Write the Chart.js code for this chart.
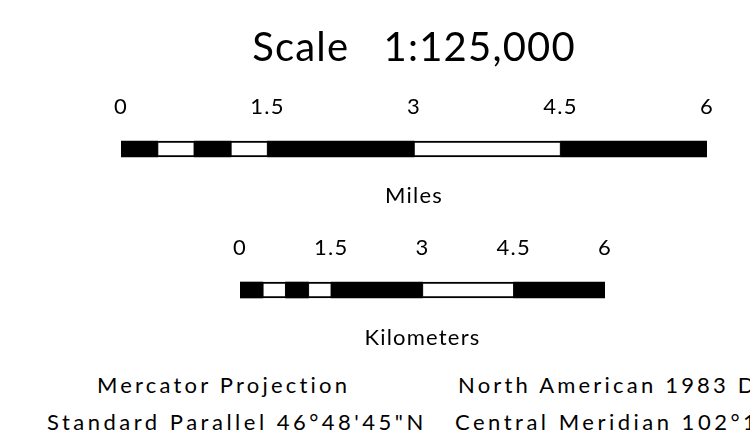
<!DOCTYPE html>
<html>
<head>
<meta charset="utf-8">
<script src="https://cdn.jsdelivr.net/npm/chart.js@4.4.1/dist/chart.umd.min.js"></script>
<style>
  html, body { margin: 0; padding: 0; background: #fff; overflow: hidden; }
  #wrap { position: relative; width: 750px; height: 445px; overflow: hidden; font-family: Lato, sans-serif; color: #000; }
  .cv { position: absolute; left: 0; }
  .note { position: absolute; white-space: nowrap; font-size: 22px; line-height: 24px; }
</style>
</head>
<body>
<div id="wrap">
  <div class="cv" style="top:0;width:750px;height:211px;"><canvas id="miles"></canvas></div>
  <div class="cv" style="top:212px;width:750px;height:141px;"><canvas id="km"></canvas></div>
  <div id="notes"></div>
</div>
<script>
// ---- data ----
const titleText = 'Scale   1:125,000';
const mileTicks = [0, 1.5, 3, 4.5, 6];
const mileSegments = [[0, 0.375], [0.375, 0.75], [0.75, 1.125], [1.125, 1.5], [1.5, 3], [3, 4.5], [4.5, 6]];
const kmTicks = [0, 1.5, 3, 4.5, 6];
const kmSegments = [[0, 0.375], [0.375, 0.75], [0.75, 1.125], [1.125, 1.5], [1.5, 3], [3, 4.5], [4.5, 6]];
const segmentFill = ['#000', '#fff', '#000', '#fff', '#000', '#fff', '#000'];
const unitLabels = ['Miles', 'Kilometers'];
const noteLeft = ['Mercator Projection', 'Standard Parallel 46°48\'45"N'];
const noteRight = ['North American 1983 Datum', 'Central Meridian 102°15\'W'];

const FONT = 'Lato';

const spacingPlugin = {
  id: 'spacing',
  beforeDraw(chart) { chart.ctx.letterSpacing = '1.2px'; }
};

function makeScaleBar(canvasId, segments, ticks, unit, opts) {
  const datasets = segments.map((seg, i) => ({
    data: [seg],
    backgroundColor: segmentFill[i],
    borderColor: '#000',
    borderWidth: segmentFill[i] === '#fff' ? { top: 2, bottom: 2, left: 1, right: 1 } : 0,
    borderSkipped: false,
    barThickness: 16,
    grouped: false
  }));
  return new Chart(document.getElementById(canvasId), {
    type: 'bar',
    data: { labels: [unit], datasets },
    plugins: [spacingPlugin],
    options: {
      indexAxis: 'y',
      responsive: true,
      maintainAspectRatio: false,
      devicePixelRatio: 1,
      animation: false,
      layout: { padding: opts.padding },
      plugins: {
        legend: { display: false },
        tooltip: { enabled: false },
        title: opts.title ? {
          display: true, text: opts.title, color: '#000',
          font: { family: FONT, size: 40, weight: 'normal' },
          padding: { top: 24.2, bottom: 13.4 }
        } : { display: false },
        subtitle: {
          display: true, text: unit, position: 'bottom', color: '#000',
          font: { family: FONT, size: 22, weight: 'normal' },
          padding: opts.subPad
        }
      },
      scales: {
        x: {
          position: 'top',
          min: ticks[0],
          max: ticks[ticks.length - 1],
          afterBuildTicks: (ax) => { ax.ticks = ticks.map(v => ({ value: v })); },
          grid: { display: false, drawTicks: false },
          border: { display: false },
          ticks: {
            color: '#000', padding: 8, maxRotation: 0, autoSkip: false,
            font: { family: FONT, size: 22 },
            callback: (v) => String(v)
          }
        },
        y: { display: false }
      }
    }
  });
}

makeScaleBar('miles', mileSegments, mileTicks, unitLabels[0], {
  title: titleText, padding: { top: 0, left: 121, right: 43, bottom: 0 },
  subPad: { top: 12.3, bottom: 2.3 }
});
makeScaleBar('km', kmSegments, kmTicks, unitLabels[1], {
  padding: { top: 14.6, left: 240, right: 145, bottom: 0 },
  subPad: { top: 13.8, bottom: 1.8 }
});

// ---- projection notes ----
const notes = document.getElementById('notes');
const rowTops = [373, 410];
const rowSpacing = [3.2, 3.5];
const leftStarts = [97, 47];
const rightStarts = [458, 455];
[noteLeft, noteRight].forEach((col, c) => {
  col.forEach((t, i) => {
    const d = document.createElement('div');
    d.className = 'note';
    d.style.top = rowTops[i] + 'px';
    d.style.letterSpacing = rowSpacing[i] + 'px';
    d.style.left = (c === 0 ? leftStarts[i] : rightStarts[i]) + 'px';
    d.textContent = t;
    notes.appendChild(d);
  });
});
</script>
</body>
</html>
